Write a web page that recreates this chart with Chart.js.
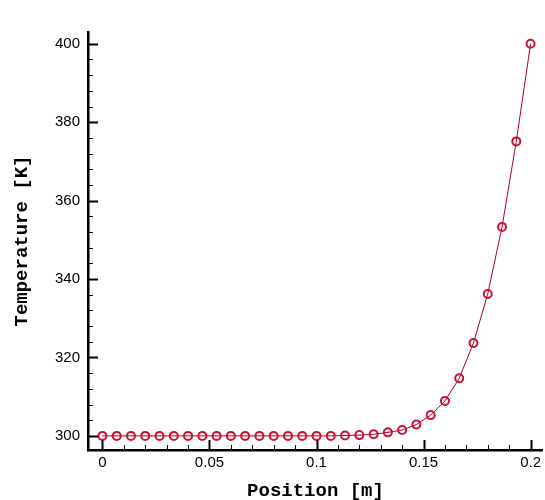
<!DOCTYPE html>
<html>
<head>
<meta charset="utf-8">
<script src="https://cdn.jsdelivr.net/npm/chart.js@4/dist/chart.umd.min.js"></script>
<style>
  body { margin: 0; background: #fff; }
  #wrap { width: 545px; height: 500px; }
</style>
</head>
<body>
<div id="wrap"><canvas id="chart" width="545" height="500"></canvas></div>
<script>
// position along the bar [m], 31 nodes
const positions = [
    0, 0.00667, 0.01333, 0.02, 0.02667, 0.03333, 0.04, 0.04667, 0.05333, 0.06, 0.06667,
    0.07333, 0.08, 0.08667, 0.09333, 0.1, 0.10667, 0.11333, 0.12, 0.12667, 0.13333,
    0.14, 0.14667, 0.15333, 0.16, 0.16667, 0.17333, 0.18, 0.18667, 0.19333, 0.2
];
// temperature [K]
const temperatures = [
    300, 300, 300, 300, 300, 300, 300, 300, 300, 300, 300,
    300, 300, 300, 300, 300, 300, 300.1, 300.2, 300.4, 300.9,
    301.5, 302.9, 305.3, 308.9, 314.7, 323.7, 336.2, 353.3, 375.1, 400
];
const xTicks = [0, 0.05, 0.1, 0.15, 0.2];
const yTicks = [300, 320, 340, 360, 380, 400];
const xMinorStep = 0.01;
const yMinorStep = 4;

const labelFont = { family: "'Liberation Sans', Arial, sans-serif", size: 15 };
const titleFont = { family: "'Liberation Mono', 'Courier New', monospace", size: 19, weight: 'bold' };

// tecplot style ticks pointing into the plot
const inwardTicks = {
    id: 'inwardTicks',
    afterDraw(chart) {
        const ctx = chart.ctx;
        const xs = chart.scales.x;
        const ys = chart.scales.y;
        const area = chart.chartArea;
        ctx.save();
        ctx.strokeStyle = '#000';
        for (let v = 0; v <= 0.2 + 1e-9; v += xMinorStep) {
            const major = xTicks.some(t => Math.abs(t - v) < 1e-6);
            const px = Math.round(xs.getPixelForValue(v)) + 0.5;
            ctx.lineWidth = major ? 2 : 1;
            ctx.beginPath();
            ctx.moveTo(px, area.bottom);
            ctx.lineTo(px, area.bottom - (major ? 10 : 5));
            ctx.stroke();
        }
        for (let v = 300; v <= 400; v += yMinorStep) {
            const major = yTicks.includes(v);
            const py = Math.round(ys.getPixelForValue(v)) + 0.5;
            ctx.lineWidth = major ? 2 : 1;
            ctx.beginPath();
            ctx.moveTo(area.left, py);
            ctx.lineTo(area.left + (major ? 10 : 5), py);
            ctx.stroke();
        }
        ctx.restore();
    }
};

new Chart(document.getElementById('chart').getContext('2d'), {
    type: 'line',
    data: {
        datasets: [{
            data: positions.map((x, i) => ({ x: x, y: temperatures[i] })),
            borderColor: '#a8002c',
            borderWidth: 1,
            pointRadius: 4,
            pointBorderWidth: 2,
            pointBorderColor: '#d0102e',
            pointBackgroundColor: 'rgba(255,255,255,0)',
            tension: 0
        }]
    },
    options: {
        responsive: false,
        animation: false,
        layout: { autoPadding: false, padding: { top: 32, right: 0, left: 0, bottom: 0 } },
        plugins: { legend: { display: false }, tooltip: { enabled: false } },
        scales: {
            x: {
                type: 'linear',
                min: -0.00674,
                max: 0.2058,
                afterBuildTicks: s => { s.ticks = xTicks.map(v => ({ value: v })); },
                afterFit: s => { s.height = 50; },
                ticks: {
                    font: labelFont,
                    color: '#000',
                    padding: 4,
                    maxRotation: 0,
                    callback: v => String(v)
                },
                grid: { display: true, drawOnChartArea: false, drawTicks: false },
                border: { color: '#000', width: 2.5 },
                title: {
                    display: true,
                    text: 'Position [m]',
                    font: titleFont,
                    color: '#000',
                    padding: { top: 0, bottom: -3 }
                }
            },
            y: {
                min: 296.4,
                max: 403,
                afterBuildTicks: s => { s.ticks = yTicks.map(v => ({ value: v })); },
                afterFit: s => { s.width = 88; },
                ticks: {
                    font: labelFont,
                    color: '#000',
                    padding: 8,
                    callback: v => String(v)
                },
                grid: { display: true, drawOnChartArea: false, drawTicks: false },
                border: { color: '#000', width: 2.5 },
                title: {
                    display: true,
                    text: 'Temperature [K]',
                    font: titleFont,
                    color: '#000',
                    padding: { top: 11, bottom: 0 }
                }
            }
        }
    },
    plugins: [inwardTicks]
});
</script>
</body>
</html>
